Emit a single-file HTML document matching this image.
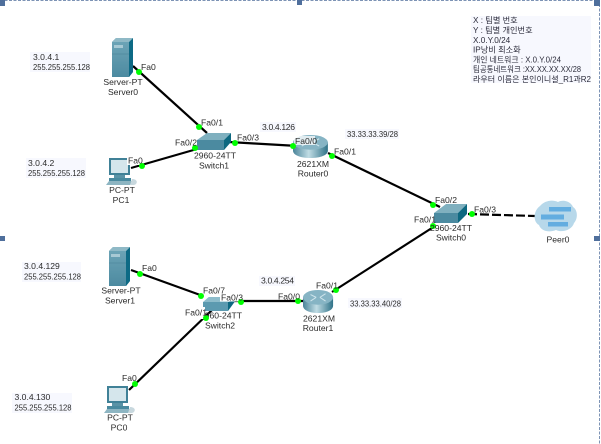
<!DOCTYPE html>
<html><head><meta charset="utf-8">
<style>
html,body{margin:0;padding:0;background:#fff;width:601px;height:444px;overflow:hidden}
svg{display:block}
text{font-family:"Liberation Sans","Noto Sans CJK KR",sans-serif;font-size:8.6px;fill:#2a2a2a}
.m{text-anchor:middle}
.k{font-size:8.2px;fill:#2c2c3a}
.d{fill:#0f0}
.l{stroke:#050505;stroke-width:2.2;fill:none}
</style></head>
<body>
<svg width="601" height="444" viewBox="0 0 601 444" xmlns="http://www.w3.org/2000/svg">
<defs>
<linearGradient id="srv" x1="0" x2="0" y1="0" y2="1"><stop offset="0" stop-color="#6fa6b8"/><stop offset="1" stop-color="#4c8aa0"/></linearGradient>
<linearGradient id="rt" x1="0" x2="1" y1="0" y2="0"><stop offset="0" stop-color="#4a8499"/><stop offset=".45" stop-color="#c0dce4"/><stop offset="1" stop-color="#2f7288"/></linearGradient>
<filter id="b" x="-5%" y="-5%" width="110%" height="110%"><feGaussianBlur stdDeviation="0.35"/></filter>
<g id="router">
<path d="M0 8V17C0 22 7 25 16 25S32 22 32 17V8Z" fill="url(#rt)"/>
<ellipse cx="16" cy="8" rx="16" ry="8" fill="#86b4c4"/>
<path d="M8 5L14 8M24 4L18 8M8 12L14 8M24 12L18 8" stroke="#cfe5ec" stroke-width="1.1"/>
</g>
<g id="server">
<path d="M0 4L4 0H21V34L17 39H0Z" fill="url(#srv)"/>
<path d="M17 4L21 0V34L17 39Z" fill="#0d6a85"/>
<path d="M0 4L4 0H21L17 4Z" fill="#8fb9c6"/>
<rect x="2" y="7" width="9" height="3" fill="#a7c9d4"/>
<path d="M0 16H17" stroke="#447f94" stroke-width=".6"/>
</g>
<g id="pc">
<path d="M3 0H24V17H3Z" fill="#3f8197"/>
<rect x="5" y="2" width="17" height="13" fill="#d5e6ec"/>
<path d="M8 17H19V20H8Z" fill="#5a93a6"/>
<path d="M3 20H25V23H3Z" fill="#4a8a9f"/>
<path d="M3 23H26L24 27H0Z" fill="#8db5c2"/>
<path d="M26 21C32 21 32 26 28 27H24Z" fill="#c8d8de"/>
</g>
</defs>

<rect width="601" height="444" fill="#fff"/>

<!-- page frame -->
<path d="M0 .5H599.500V444" fill="none" stroke="#7d93b5" stroke-width="1" stroke-dasharray="3 1.500"/>
<g fill="#4f6f9c">
<rect x="0" y="0" width="5" height="6"/><rect x="297" y="0" width="5" height="5"/><rect x="594" y="0" width="6" height="6"/>
<rect x="0" y="236" width="5" height="5"/><rect x="594" y="236" width="6" height="5"/>
</g>

<g filter="url(#b)">
<!-- note backgrounds -->
<g fill="#f7f8fe">
<rect x="30" y="52" width="60" height="20"/>
<rect x="26" y="158" width="60" height="20"/>
<rect x="22" y="262" width="59" height="20"/>
<rect x="12" y="393" width="60" height="20"/>
<rect x="471" y="16" width="120" height="67"/>
<rect x="345" y="129" width="54" height="10"/>
<rect x="348" y="298" width="54" height="10"/>
<rect x="260" y="122" width="36" height="10"/>
<rect x="259" y="276" width="36" height="10"/>
</g>

<!-- links -->
<path class="l" d="M133 66L207 133"/>
<path class="l" d="M131 168L197 149"/>
<path class="l" d="M229 142L298 146"/>
<path class="l" d="M328 153L440 207"/>
<path class="l" d="M435 226L332 292"/>
<path class="l" d="M131 270L203 296"/>
<path class="l" d="M129 390L212 310"/>
<path class="l" d="M233 301L305 301"/>
<path class="l" d="M468 214L535 216" stroke-width="2.6" stroke-dasharray="9 3"/>

<!-- servers -->
<use href="#server" x="112" y="38"/>
<use href="#server" x="109" y="247"/>
<!-- pcs -->
<use href="#pc" x="106" y="158"/>
<use href="#pc" x="104" y="386"/>

<!-- switch1 -->
<path d="M197 140L207 133H231L224 140Z" fill="#7fb0bf"/>
<path d="M197 140H224V150H197Z" fill="#4c8aa0"/>
<path d="M224 140L231 133V142L224 150Z" fill="#0f6780"/>
<!-- switch0 -->
<path d="M434 213L446 204H467L458 213Z" fill="#7fb0bf"/>
<path d="M434 213H458V223H434Z" fill="#4c8aa0"/>
<path d="M458 213L467 204V214L458 223Z" fill="#0f6780"/>
<!-- switch2 -->
<path d="M203 302L211 295H236L228 302Z" fill="#8dbccb"/>
<path d="M203 302H228V311H203Z" fill="#5b9ab0"/>
<path d="M228 302L236 300L228 311Z" fill="#0f6780"/>

<!-- routers -->
<use href="#router" transform="translate(293 135) scale(1.09 .92)"/>
<use href="#router" transform="translate(303 290) scale(.94 .92)"/>

<!-- cloud -->
<g>
<path d="M540 206C544 201 552 199 558 202C564 199 571 202 573 207C578 210 578 219 574 223C572 230 562 233 556 230C549 233 541 231 539 225C533 222 533 211 540 206Z" fill="#b7d8ea"/>
<rect x="549" y="207" width="22" height="4.500" fill="#63ade0"/>
<rect x="541" y="214.500" width="23" height="5" fill="#63ade0"/>
<rect x="548" y="222" width="20" height="4.500" fill="#63ade0"/>
</g>

<!-- label backgrounds over devices -->
<rect x="127" y="156" width="15" height="9" fill="#fff"/>
<rect x="294" y="136" width="21" height="9" fill="#fff" opacity=".75"/>
<rect x="203" y="289" width="20" height="8" fill="#fff"/>
<rect x="220" y="292" width="21" height="9.500" fill="#fff"/>
<rect x="184" y="307" width="21" height="11" fill="#fff"/>

<!-- link lights -->
<g class="d">
<circle cx="139" cy="72" r="3"/><circle cx="199" cy="127" r="3"/>
<circle cx="142" cy="166" r="3"/><circle cx="195" cy="148" r="3"/>
<circle cx="235" cy="143" r="3"/><circle cx="293" cy="146" r="3"/>
<circle cx="332" cy="156" r="3"/><circle cx="433" cy="205" r="3"/>
<circle cx="472" cy="214" r="3"/>
<circle cx="433" cy="226" r="3"/><circle cx="336" cy="290" r="3"/>
<circle cx="140" cy="274" r="3"/><circle cx="201" cy="296" r="3"/>
<circle cx="135" cy="384" r="3"/>
<circle cx="241" cy="302" r="3"/><circle cx="298" cy="301" r="3"/>
</g>

<!-- text -->
<text x="33" y="60">3.0.4.1</text>
<text x="33" y="70" textLength="57" lengthAdjust="spacingAndGlyphs">255.255.255.128</text>
<text x="28" y="166">3.0.4.2</text>
<text x="28" y="176" textLength="57" lengthAdjust="spacingAndGlyphs">255.255.255.128</text>
<text x="24" y="269">3.0.4.129</text>
<text x="24" y="279.500" textLength="57" lengthAdjust="spacingAndGlyphs">255.255.255.128</text>
<text x="14.500" y="400">3.0.4.130</text>
<text x="14.500" y="410.500" textLength="57" lengthAdjust="spacingAndGlyphs">255.255.255.128</text>

<text class="m" x="123" y="85">Server-PT</text>
<text class="m" x="123" y="95">Server0</text>
<text class="m" x="122" y="193">PC-PT</text>
<text class="m" x="121" y="203">PC1</text>
<text class="m" x="121" y="293.500">Server-PT</text>
<text class="m" x="120" y="303.500">Server1</text>
<text class="m" x="120" y="420.500">PC-PT</text>
<text class="m" x="119" y="430.500">PC0</text>

<text x="141" y="70">Fa0</text>
<text x="201" y="125.500">Fa0/1</text>
<text x="175" y="145.500">Fa0/2</text>
<text x="237" y="140.500">Fa0/3</text>
<text x="128" y="163.500">Fa0</text>
<text x="262" y="130" textLength="33">3.0.4.126</text>
<text x="295" y="144">Fa0/0</text>
<text x="334" y="154.500">Fa0/1</text>
<text class="m" x="215" y="158.500">2960-24TT</text>
<text class="m" x="214" y="168.500">Switch1</text>
<text class="m" x="313" y="167">2621XM</text>
<text class="m" x="313" y="176.500">Router0</text>
<text x="347" y="137" textLength="51" lengthAdjust="spacingAndGlyphs">33.33.33.39/28</text>

<text x="435" y="203">Fa0/2</text>
<text x="474" y="212.500">Fa0/3</text>
<text x="414" y="222.500">Fa0/1</text>
<text class="m" x="451" y="231">2960-24TT</text>
<text class="m" x="451" y="240.500">Switch0</text>
<text class="m" x="558" y="242.500">Peer0</text>

<text x="142" y="271">Fa0</text>
<text x="203" y="293.500">Fa0/7</text>
<text x="221" y="300.500">Fa0/3</text>
<text x="278" y="299.500">Fa0/0</text>
<text x="261" y="283.500" textLength="33">3.0.4.254</text>
<text class="m" x="221" y="318.500">2960-24TT</text>
<rect x="184" y="307" width="21" height="12" fill="#fff"/>
<circle cx="206" cy="318" r="3" class="d"/>
<text x="185" y="315.500">Fa0/1</text>
<text class="m" x="220" y="328.500">Switch2</text>
<text x="122" y="381">Fa0</text>

<text x="316" y="288.500">Fa0/1</text>
<text class="m" x="319" y="321.500">2621XM</text>
<text class="m" x="318" y="331">Router1</text>
<text x="350" y="306.500" textLength="51" lengthAdjust="spacingAndGlyphs">33.33.33.40/28</text>

<text class="k" x="473" y="23">X : 팀별 번호</text>
<text class="k" x="473" y="33">Y : 팀별 개인번호</text>
<text class="k" x="473" y="43">X.0.Y.0/24</text>
<text class="k" x="473" y="52.500">IP낭비 최소화</text>
<text class="k" x="473" y="62.500" textLength="88" lengthAdjust="spacingAndGlyphs">개인 네트워크 : X.0.Y.0/24</text>
<text class="k" x="473" y="72" textLength="108" lengthAdjust="spacingAndGlyphs">팀공통네트워크 :XX.XX.XX.XX/28</text>
<text class="k" x="473" y="82" textLength="118" lengthAdjust="spacingAndGlyphs">라우터 이름은 본인이니셜_R1과R2</text>
</g>
</svg>
</body></html>
